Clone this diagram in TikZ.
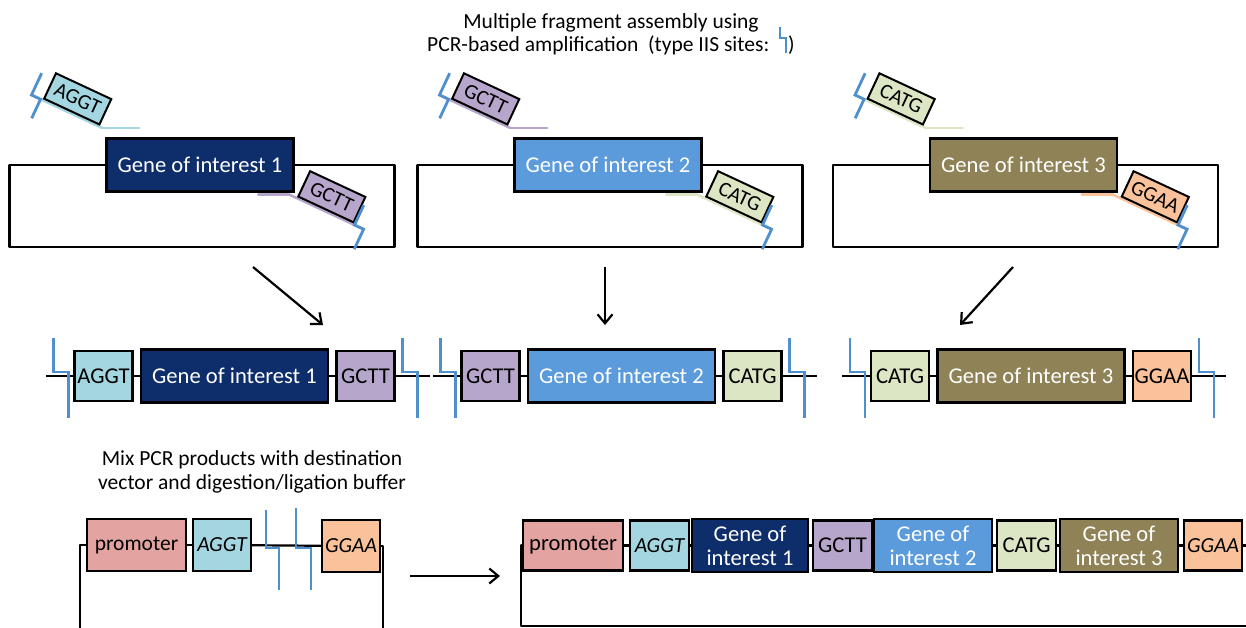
\documentclass[tikz,border=0pt]{standalone}
\usepackage{fontspec}
\setmainfont{Carlito}
\usepackage{tikz}
\usetikzlibrary{arrows.meta,positioning,calc}
\definecolor{gen1c}{HTML}{0E2D6B}
\definecolor{gen2c}{HTML}{5B9BDC}
\definecolor{gen3c}{HTML}{8E8256}
\definecolor{aggtc}{HTML}{A3D6E1}
\definecolor{gcttc}{HTML}{B7A6CB}
\definecolor{catgc}{HTML}{DCE6C4}
\definecolor{ggaac}{HTML}{F9C29A}
\definecolor{promc}{HTML}{E2A3A1}
\definecolor{iisblue}{HTML}{4F8FCE}
\newcommand{\dnafont}{\fontsize{21.5}{23.5}\selectfont}
\newcommand{\bigdnafont}{\fontsize{22.6}{24}\selectfont}
\tikzset{
  backbone/.style={line width=2.2pt, black, line join=round},
  genebox/.style={rectangle, draw=black, line width=2.2pt, fill=#1, text=white,
    minimum width=187pt, minimum height=53pt, inner sep=0pt, outer sep=0pt,
    font=\bigdnafont, align=center},
  genebox/.default=gen1c,
  ohbox/.style={rectangle, draw=black, line width=2.2pt, fill=#1, text=black,
    minimum width=58pt, minimum height=50pt, inner sep=0pt, outer sep=0pt,
    font=\bigdnafont},
  ohbox/.default=aggtc,
  tiltbox/.style={ohbox=#1, line width=2pt, minimum width=61pt,
    minimum height=28pt, font=\fontsize{21}{22}\selectfont},
  primer/.style={line width=2.5pt, color=#1, line cap=round},
  iisline/.style={line width=2.8pt, iisblue},
  pics/iis/.style args={#1/#2/#3}{code={
    \draw[iisline] (0,-#1) -- (0,0) -- (#2,0) -- (#2,#3);}},
  flowarrow/.style={-{Straight Barb[length=9pt,width=15pt]}, line width=2.2pt},
  notetext/.style={font=\dnafont, inner sep=0pt, align=center},
}
\begin{document}
\begin{tikzpicture}[x=1pt, y=-1pt]
  \useasboundingbox (0,0) rectangle (1246,627);
  \node[notetext, anchor=base] (title1) at (611,28) {Multiple fragment assembly using};
  \node[notetext, anchor=base] (title2) at (611,51) {PCR-based amplification\ \ (type IIS sites:\hspace{19pt})};
  \pic at ($(title2.base east)+(-15,-13)$) {iis=11/6/15};
  \foreach \i/\gx/\gc/\lc/\lt/\rc/\rt in {1/200/gen1c/aggtc/AGGT/gcttc/GCTT,
      2/608/gen2c/gcttc/GCTT/catgc/CATG, 3/1023.5/gen3c/catgc/CATG/ggaac/GGAA}{
    \node[genebox=\gc] (vgene\i) at (\gx,165) {Gene of interest \i};
    \draw[backbone] (vgene\i.west) -- ++(-97,0) -- ++(0,82) -| ($(vgene\i.east)+(101,0)$) -- (vgene\i.east);
    \begin{scope}[shift={($(vgene\i.west)+(-75,-70)$)}, rotate=-25, transform shape]
      \draw[primer=\lc] (0,0) -- (78,0) coordinate (lpb\i);
      \node[tiltbox=\lc, anchor=south west] (lbox\i) at (13,-2) {\lt};
      \pic at (0,0) {iis=24/10/21};
    \end{scope}
    \draw[primer=\lc] (lpb\i) -- ++(37,0);
    \begin{scope}[shift={($(vgene\i.east)+(61,60)$)}, rotate=-25, transform shape]
      \draw[primer=\rc] (-72,0) coordinate (rpa\i) -- (10,0);
      \node[tiltbox=\rc, anchor=south east] (rbox\i) at (-2,-2) {\rt};
      \pic at (0,0) {iis=22/10/22};
    \end{scope}
    \draw[primer=\rc] (rpa\i) -- ++(-31,0);
  }
  \foreach \k/\sx/\ex in {1/253/323, 2/605/605, 3/1013/960}{
    \coordinate (as\k) at (\sx,267);
    \coordinate (ae\k) at (\ex,325);
    \draw[flowarrow] (as\k) -- (ae\k);
  }
  \foreach \i/\gx/\gc/\lc/\lt/\rc/\rt in {1/234.5/gen1c/aggtc/AGGT/gcttc/GCTT,
      2/621.5/gen2c/gcttc/GCTT/catgc/CATG, 3/1031/gen3c/catgc/CATG/ggaac/GGAA}{
    \node[genebox=\gc] (rgene\i) at (\gx,376) {Gene of interest \i};
    \node[ohbox=\lc, left=8.5pt of rgene\i] (rl\i) {\lt};
    \node[ohbox=\rc, right=8.5pt of rgene\i] (rr\i) {\rt};
    \draw[backbone] (rl\i) -- (rgene\i);
    \draw[backbone] (rgene\i) -- (rr\i);
    \draw[backbone] (rl\i.west) -- ++(-29,0);
    \draw[backbone] (rr\i.east) -- ++(35,0);
    \pic at ($(rl\i.west)+(-21,-4)$) {iis=34/15/46};
    \pic at ($(rr\i.east)+(8,-4)$) {iis=34/15/46};
  }
  \node[notetext] (mixnote) at (252,472) {Mix PCR products with destination\\vector and digestion/ligation buffer};
  \node[ohbox=promc, minimum width=99pt, minimum height=52pt, font=\dnafont] (lprom) at (136.5,545) {promoter};
  \node[ohbox=aggtc, minimum height=52pt, font=\dnafont\itshape, right=7pt of lprom] (laggt) {AGGT};
  \node[ohbox=ggaac, minimum height=52pt, font=\dnafont\itshape] (lggaa) at (351,546) {GGAA};
  \draw[backbone] (lprom) -- (laggt);
  \draw[backbone] (laggt) -- (lggaa);
  \draw[backbone] (lprom.west) -- ++(-7,0) -- ++(0,90);
  \draw[backbone] (lggaa.east) -- ++(3,0) -- ++(0,90);
  \pic at ($(laggt.east)+(15,3)$) {iis=38/13/42};
  \pic at ($(laggt.east)+(45,3)$) {iis=40/15/42};
  \coordinate (mixs) at (410,576);
  \coordinate (mixe) at (500,576);
  \draw[flowarrow] (mixs) -- (mixe);
  \begin{scope}[every node/.append style={font=\dnafont, minimum height=53pt}]
    \node[ohbox=promc, minimum width=100pt] (fprom) at (573,545.5) {promoter};
    \node[ohbox=aggtc, minimum width=59pt, font=\dnafont\itshape, right=7pt of fprom] (faggt) {AGGT};
    \node[genebox=gen1c, minimum width=116pt, right=3pt of faggt] (fgen1) {Gene of\\interest 1};
    \node[ohbox=gcttc, minimum width=59pt, right=5pt of fgen1] (fgctt) {GCTT};
    \node[genebox=gen2c, minimum width=118pt, right=2pt of fgctt] (fgen2) {Gene of\\interest 2};
    \node[ohbox=catgc, minimum width=59pt, right=5pt of fgen2] (fcatg) {CATG};
    \node[genebox=gen3c, minimum width=118pt, right=4pt of fcatg] (fgen3) {Gene of\\interest 3};
    \node[ohbox=ggaac, font=\dnafont\itshape, right=6pt of fgen3] (fggaa) {GGAA};
  \end{scope}
  \foreach \a/\b in {fprom/faggt, faggt/fgen1, fgen1/fgctt, fgctt/fgen2,
      fgen2/fcatg, fcatg/fgen3, fgen3/fggaa}
    \draw[backbone] (\a) -- (\b);
  \coordinate (fcorner) at (1260,626);
  \draw[backbone] (fprom.west) -- ++(-2,0) |- (fcorner);
  \draw[backbone] (fggaa.east) -- ++(12,0);
\end{tikzpicture}
\end{document}
